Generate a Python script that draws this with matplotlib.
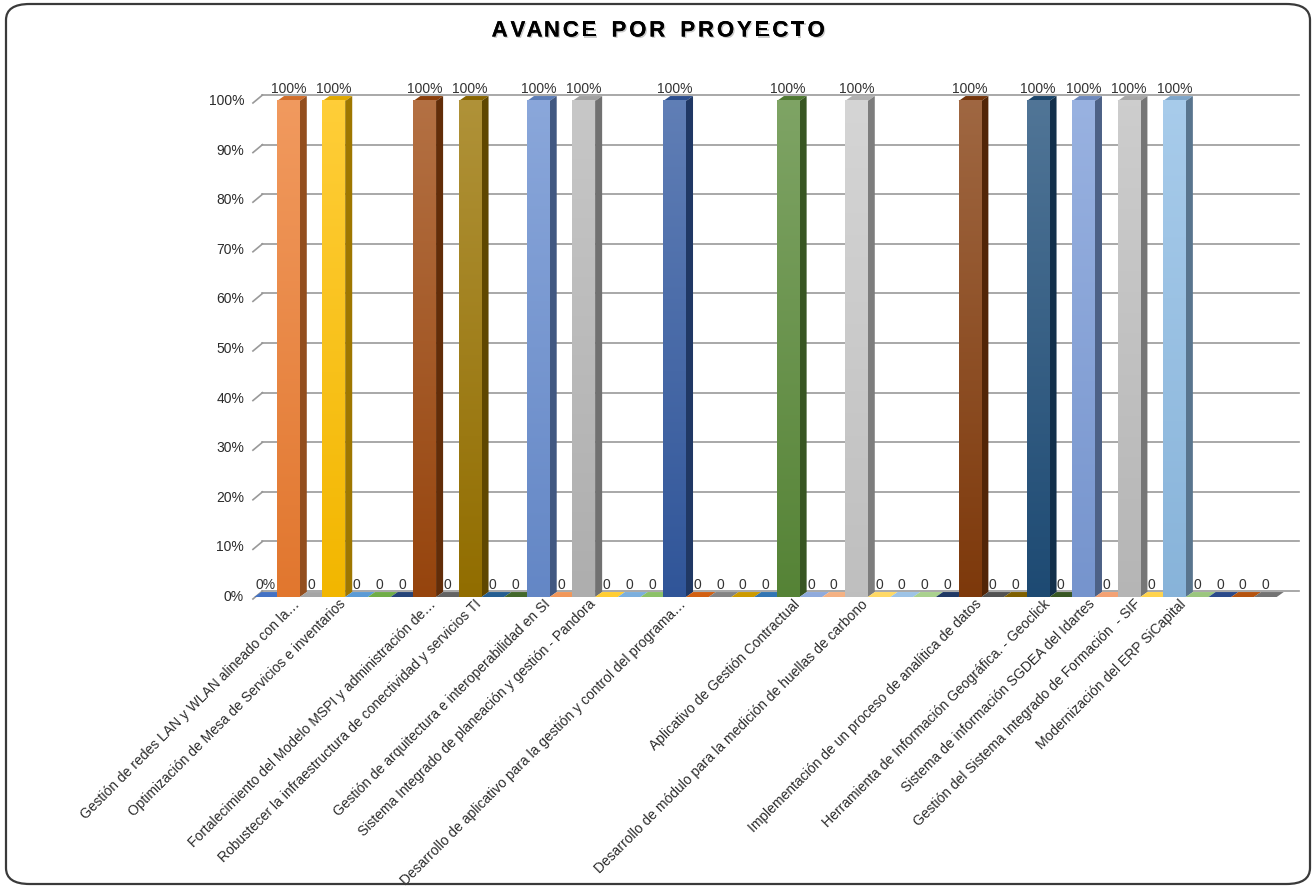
import matplotlib
matplotlib.use('Agg')
import matplotlib.pyplot as plt
import numpy as np
from matplotlib.colors import to_rgb
from matplotlib.patches import Polygon, FancyBboxPatch
from matplotlib import patheffects

plt.rcParams['font.family'] = ['Liberation Sans', 'DejaVu Sans']

# one slot per series position (45), bars only where a project reports progress
values = [0, 100, 0, 100, 0, 0, 0, 100, 0, 100, 0, 0, 100, 0, 100, 0, 0, 0, 100,
          0, 0, 0, 0, 100, 0, 0, 100, 0, 0, 0, 0, 100, 0, 0, 100, 0, 100, 0, 100,
          0, 100, 0, 0, 0, 0]

colors = ['#4472C4', '#ED7D31', '#A5A5A5', '#FFC000', '#5B9BD5', '#70AD47',
          '#264478', '#9E480E', '#636363', '#997300', '#255E91', '#43682B',
          '#698ED0', '#F1975A', '#B7B7B7', '#FFCD33', '#7CAFDD', '#8CC168',
          '#335AA1', '#D26012', '#848484', '#CC9A00', '#3275B3', '#5A8A39',
          '#8FAADC', '#F4B183', '#C9C9C9', '#FFD966', '#9DC3E6', '#A9D18E',
          '#203864', '#843C0C', '#525252', '#7F6000', '#1F4E79', '#385723',
          '#7C9CD8', '#F3A173', '#BFBFBF', '#FFD34D', '#8FBDE5', '#9BC67E',
          '#2B4A8A', '#B5530F', '#737373']

# 1-based slot of each project label
label_slots = [2, 4, 8, 10, 13, 15, 19, 24, 27, 32, 35, 37, 39, 41]
projects = [
    'Gestión de redes LAN y WLAN alineado con la…',
    'Optimización de Mesa de Servicios e inventarios',
    'Fortalecimiento del Modelo MSPI y administración de…',
    'Robustecer la infraestructura de conectividad y servicios TI',
    'Gestión de arquitectura e interoperabilidad en SI',
    'Sistema Integrado de planeación y gestión - Pandora',
    'Desarrollo de aplicativo para la gestión y control del programa…',
    'Aplicativo de Gestión Contractual',
    'Desarrollo de módulo para la medición de huellas de carbono',
    'Implementación de un proceso de analítica de datos',
    'Herramienta de Información Geográfica. - Geoclick',
    'Sistema de información SGDEA del Idartes',
    'Gestión del Sistema Integrado de Formación  - SIF',
    'Modernización del ERP SiCapital',
]
y_ticks = list(range(0, 101, 10))

W, H = 1316, 888
fig = plt.figure(figsize=(W / 100, H / 100), dpi=100)

# rounded frame
frame = FancyBboxPatch((6 / W, 4 / H), (W - 12) / W, (H - 8) / H,
                       boxstyle='round,pad=0,rounding_size=0.018',
                       transform=fig.transFigure, facecolor='none',
                       edgecolor='#3a3a3a', linewidth=1.6, zorder=5)
fig.patches.append(frame)

# plot area: slot 0..45 -> x 254..1277 px, 0..100% -> y 597..101 px
x0, x1, y0, y1 = 254.3, 1276.7, 597, 101
ax = fig.add_axes([x0 / W, (H - y0) / H, (x1 - x0) / W, (y0 - y1) / H])
ax.set_xlim(0, len(values))
ax.set_ylim(0, 100)
ax.axis('off')

dx, dy = 0.31, 1.0      # bar depth
gx, gy = 0.36, 1.2      # back wall offset

for v in y_ticks:
    ax.plot([-0.06, gx], [v - 0.4, v + gy], color='#999999', lw=1.2,
            clip_on=False, zorder=1)
    ax.plot([gx, 46.0], [v + gy, v + gy], color='#999999', lw=1.2,
            clip_on=False, zorder=1)
    ax.text(-0.45, v, f'{v}%', ha='right', va='center', fontsize=10,
            color='#2b2b2b')


def shade(c, f):
    c = np.array(to_rgb(c))
    return tuple(np.clip(c * f, 0, 1))


def tint(c, f):
    c = np.array(to_rgb(c))
    return tuple(c + (1 - c) * f)


for i, (v, c) in enumerate(zip(values, colors)):
    s = i
    z = 3 + i * 0.01
    top = Polygon([(s, v), (s + dx, v + dy), (s + 1 + dx, v + dy), (s + 1, v)],
                  closed=True, facecolor=shade(c, 0.88 if v > 0 else 1.0),
                  edgecolor='none', clip_on=False, zorder=z)
    ax.add_patch(top)
    if v > 0:
        side = Polygon([(s + 1, 0), (s + 1 + dx, dy), (s + 1 + dx, v + dy),
                        (s + 1, v)], closed=True, facecolor=shade(c, 0.62),
                       edgecolor='none', clip_on=False, zorder=z)
        ax.add_patch(side)
        ctop = np.array(tint(c, 0.22))
        cbot = np.array(shade(c, 0.95))
        t = np.linspace(0, 1, 64)[:, None]
        grad = (ctop * (1 - t) + cbot * t)[:, None, :]
        ax.imshow(grad, extent=[s, s + 1, 0, v], aspect='auto',
                  interpolation='bilinear', zorder=z, clip_on=False)
    lab = f'{v}%' if (v > 0 or i == 0) else '0'
    ax.text(s + 0.5, v + 2.5, lab, ha='center', va='center', fontsize=10,
            color='#333333', zorder=10)

ax.set_xlim(0, len(values))
ax.set_ylim(0, 100)

for slot, name in zip(label_slots, projects):
    ax.text(slot - 0.5 + 0.42, -1.0, name, rotation=45, rotation_mode='anchor',
            ha='right', va='center', fontsize=10, color='#2b2b2b',
            clip_on=False)

# title with letter spacing
title = 'AVANCE POR PROYECTO'
fig.canvas.draw()
rend = fig.canvas.get_renderer()
tsize = 16
spacing = 2.8
word_gap = 15
words = title.split(' ')
pieces = []
xpos = 0.0
for wi, word in enumerate(words):
    for ci in range(len(word)):
        probe = fig.text(0, 0, word[:ci] if ci else 'X', fontsize=tsize,
                         fontweight='bold')
        wpre = probe.get_window_extent(rend).width if ci else 0.0
        probe.remove()
        pieces.append((word[ci], xpos + wpre + ci * spacing))
    probe = fig.text(0, 0, word, fontsize=tsize, fontweight='bold')
    wword = probe.get_window_extent(rend).width
    probe.remove()
    xpos += wword + (len(word) - 1) * spacing + word_gap
total = xpos - word_gap
start = W / 2 - total / 2
shadow = [patheffects.withSimplePatchShadow(offset=(1.0, -1.0),
                                            shadow_rgbFace='#999999',
                                            alpha=0.5),
          patheffects.Normal()]
for ch, off in pieces:
    fig.text((start + off) / W, 1 - 31 / H, ch, fontsize=tsize,
             fontweight='bold', ha='left', va='center', color='black',
             path_effects=shadow)

fig.savefig('out.png', dpi=100)
